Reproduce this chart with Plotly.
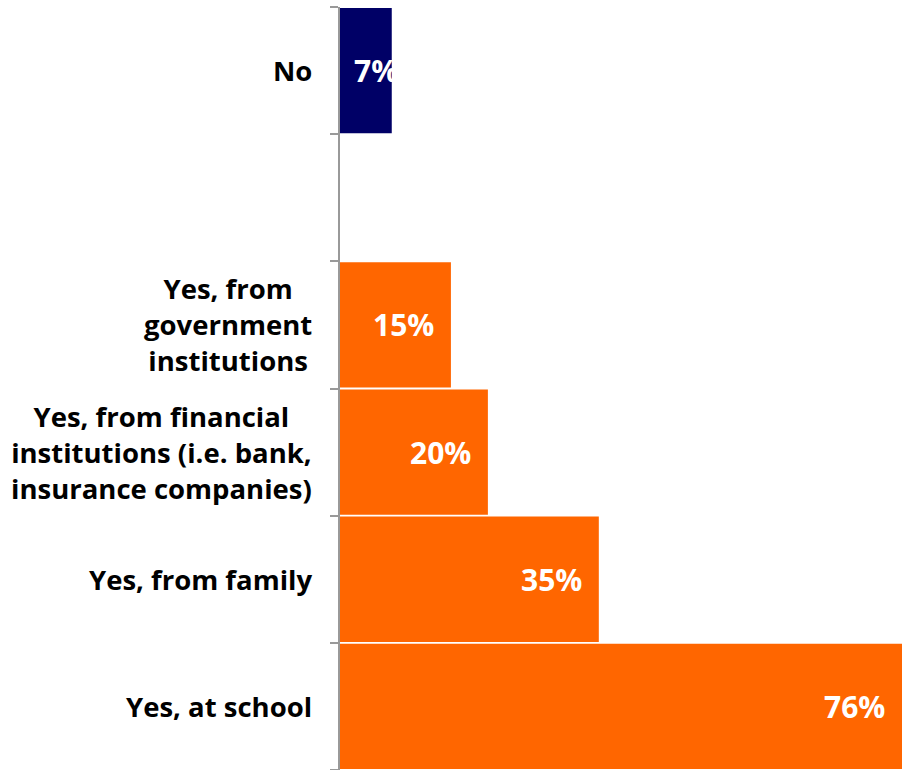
import plotly.graph_objects as go

categories = ["Yes, at school", "Yes, from family", "Yes, from financial institutions",
              "Yes, from government institutions", "blank", "No"]
labels = ["Yes, at school", "Yes, from family",
          "Yes, from financial<br>institutions (i.e. bank,<br>insurance companies)",
          "Yes, from<br>government<br>institutions", "", "No"]
values = [76, 35, 20, 15, None, 7]
colors = ["#FF6600", "#FF6600", "#FF6600", "#FF6600", "#FF6600", "#000066"]

fig = go.Figure()
fig.add_trace(go.Bar(
    y=categories, x=values, orientation="h",
    marker=dict(color=colors, line=dict(width=0)),
    hoverinfo="skip",
))

annotations = []
for cat, lab in zip(categories, labels):
    if lab:
        annotations.append(dict(
            x=0, y=cat, xref="x", yref="y", text=lab, showarrow=False,
            xanchor="right", yanchor="middle", xshift=-26, align="center",
            font=dict(family="Open Sans", size=27.5, color="#000000", weight="bold"),
        ))
for cat, v in zip(categories, values):
    if v is None:
        continue
    if v < 10:
        annotations.append(dict(
            x=0, y=cat, xref="x", yref="y", text=f"{v}%", showarrow=False,
            xanchor="left", yanchor="middle", xshift=12,
            font=dict(family="Open Sans", size=30, color="#FFFFFF", weight="bold"),
        ))
    else:
        annotations.append(dict(
            x=v, y=cat, xref="x", yref="y", text=f"{v}%", showarrow=False,
            xanchor="right", yanchor="middle", xshift=-15,
            font=dict(family="Open Sans", size=30, color="#FFFFFF", weight="bold"),
        ))

fig.update_layout(
    width=902, height=770,
    margin=dict(l=340, r=0, t=7, b=0),
    paper_bgcolor="white", plot_bgcolor="white",
    bargap=0.015,
    showlegend=False,
    annotations=annotations,
    xaxis=dict(range=[0, 76], visible=False, fixedrange=True),
    yaxis=dict(
        type="category", categoryorder="array", categoryarray=categories,
        showticklabels=False, showline=True, linecolor="#999999", linewidth=2,
        ticks="outside", ticklen=8, tickcolor="#999999", tickwidth=2,
        tickson="boundaries", showgrid=False, zeroline=False, fixedrange=True,
    ),
)
post = ("document.body.style.margin='0';document.body.style.overflow='hidden';"
        "var gd=document.getElementById('{plot_id}');"
        "Plotly.relayout(gd,{width:902,height:770});")
fig.write_html("out.html", post_script=post, config={"responsive": False, "displayModeBar": False})
